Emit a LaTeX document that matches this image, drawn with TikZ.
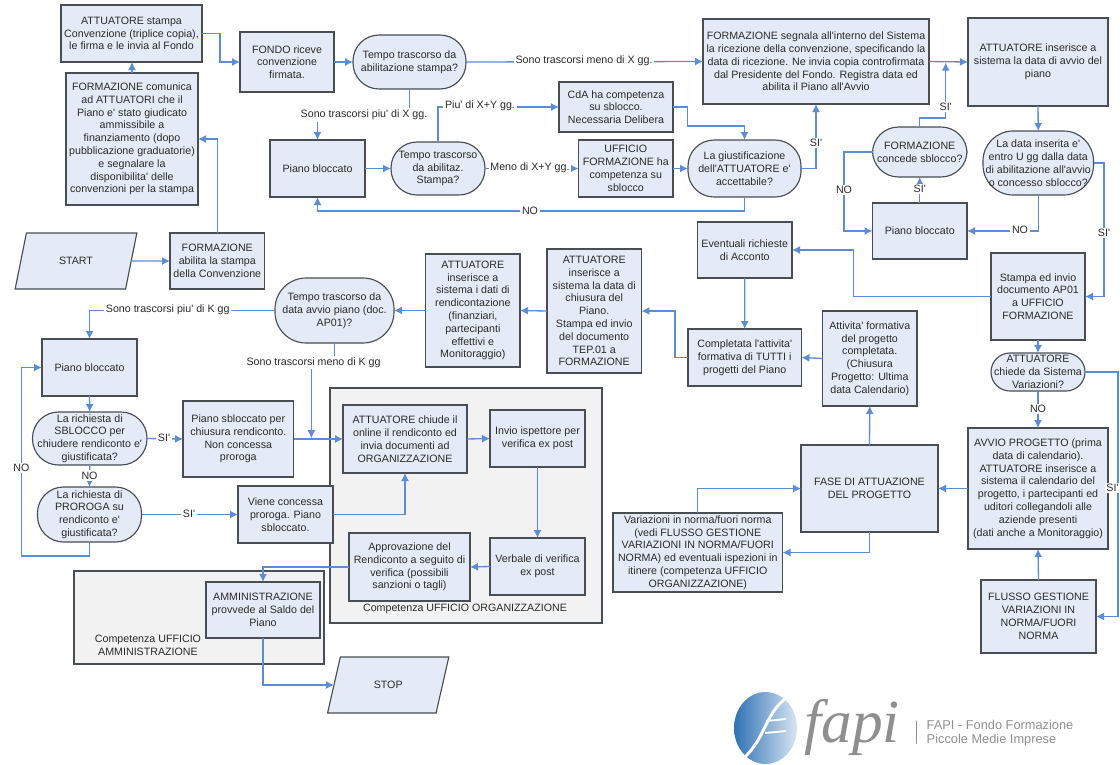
\documentclass[tikz,border=0pt]{standalone}
\usepackage{fontspec}
\newfontfamily\lib{Liberation Sans}
\newfontfamily\libs{Liberation Serif}
\usetikzlibrary{arrows.meta,shapes.geometric,calc}
\definecolor{boxfill}{HTML}{E5EBF6}
\definecolor{boxline}{HTML}{484E54}
\definecolor{conncol}{HTML}{5B8CD6}
\definecolor{panelfill}{HTML}{F2F2F2}
\definecolor{txtcol}{HTML}{2A2A2A}
\definecolor{logogrey}{HTML}{8F8F8F}
\definecolor{balldark}{HTML}{2F72B4}
\definecolor{balllight}{HTML}{D8E5F3}
\tikzset{
  x=0.75pt,y=-0.75pt,
  wh/.style 2 args={minimum width=#1*0.75pt,minimum height=#2*0.75pt},
  txt/.style={font=\lib\fontsize{8}{9.6}\selectfont,text=txtcol,align=center},
  bx/.style={txt,draw=boxline,fill=boxfill,line width=0.85pt,inner sep=0pt,outer sep=0pt},
  term/.style={bx,rounded corners=#1*0.75pt},
  term/.default=26,
  para/.style={bx,trapezium,trapezium left angle=63,trapezium right angle=117,trapezium stretches=true},
  panel/.style={draw=boxline,fill=panelfill,line width=0.85pt,inner sep=0pt},
  conn/.style={draw=conncol,line width=1pt,-{Latex[length=6pt,width=6pt]}},
  lbl/.style={txt,fill=white,inner sep=1.2pt},
  plain/.style={txt,inner sep=0pt},
}
\begin{document}
\begin{tikzpicture}
\useasboundingbox (0,0) rectangle (1120,764);
% panels
\node[panel,wh={272}{235}] (porg) at (466,505.5) {};
\node[panel,wh={250}{93}] (pamm) at (199,617.5) {};
\node[plain] (torg) at (465,609) {Competenza UFFICIO ORGANIZZAZIONE};
\node[plain] (tamm) at (148,645.5) {Competenza UFFICIO\\AMMINISTRAZIONE};
% top left
\node[bx,wh={141}{57}] (stampa) at (131.5,33.5) {ATTUATORE stampa\\Convenzione (triplice copia),\\le firma e le invia al Fondo};
\node[bx,wh={94}{60}] (fondo) at (287,62) {FONDO riceve\\convenzione\\firmata.};
\node[term,wh={113}{54}] (tempoa) at (409.5,62) {Tempo trascorso da\\abilitazione stampa?};
\node[bx,wh={132}{132}] (comunica) at (132,139) {FORMAZIONE comunica\\ad ATTUATORI che il\\Piano e' stato giudicato\\ammissibile a\\finanziamento (dopo\\pubblicazione graduatorie)\\e segnalare la\\disponibilita' delle\\convenzioni per la stampa};
\node[para,wh={122}{56}] (start) at (76,261) {START};
\node[bx,wh={94.6}{56}] (abilita) at (217.3,261) {FORMAZIONE\\abilita la stampa\\della Convenzione};
\node[bx,wh={95}{57}] (pianoa) at (317.5,168.5) {Piano bloccato};
\node[term,wh={94}{53}] (tempob) at (438,168.5) {Tempo trascorso\\da abilitaz.\\Stampa?};
\node[bx,wh={114}{50}] (cda) at (616,107) {CdA ha competenza\\su sblocco.\\Necessaria Delibera};
\node[bx,wh={94.4}{57}] (ufficio) at (625.8,168.5) {UFFICIO\\FORMAZIONE ha\\competenza su\\sblocco};
\node[term,wh={113}{57}] (giust) at (744.5,168.5) {La giustificazione\\dell'ATTUATORE e'\\accettabile?};
% top right
\node[bx,wh={226}{85}] (segnala) at (816,61.5) {FORMAZIONE segnala all'interno del Sistema\\la ricezione della convenzione, specificando la\\data di ricezione. Ne invia copia controfirmata\\dal Presidente del Fondo. Registra data ed\\abilita il Piano all'Avvio};
\node[bx,wh={140}{88}] (inserisce) at (1038,62) {ATTUATORE inserisce a\\sistema la data di avvio del\\piano};
\node[term,wh={94.5}{50}] (concede) at (919.75,152) {FORMAZIONE\\concede sblocco?};
\node[bx,wh={94.5}{56}] (pianob) at (919.75,231) {Piano bloccato};
\node[term=30,wh={110.5}{64}] (ladata) at (1038.25,163) {La data inserita e'\\entro U gg dalla data\\di abilitazione all'avvio\\o concesso sblocco?};
\node[bx,wh={94.5}{56}] (eventuali) at (744.75,250) {Eventuali richieste\\di Acconto};
\node[bx,wh={94}{87}] (stampaap) at (1038,296.5) {Stampa ed invio\\documento AP01\\a UFFICIO\\FORMAZIONE};
\node[term=19,wh={94}{38}] (chiede) at (1038,372) {ATTUATORE\\chiede da Sistema\\Variazioni?};
\node[bx,wh={140}{121}] (avvio) at (1038,488.5) {AVVIO PROGETTO (prima\\data di calendario).\\ATTUATORE inserisce a\\sistema il calendario del\\progetto, i partecipanti ed\\uditori collegandoli alle\\aziende presenti\\(dati anche a Monitoraggio)};
\node[bx,wh={115}{73}] (flusso) at (1038.5,616.5) {FLUSSO GESTIONE\\VARIAZIONI IN\\NORMA/FUORI\\NORMA};
\node[bx,wh={137}{87}] (fase) at (869.5,488.5) {FASE DI ATTUAZIONE\\DEL PROGETTO};
\node[bx,wh={94.5}{95}] (attivita) at (869.75,358.5) {Attivita' formativa\\del progetto\\completata.\\(Chiusura\\Progetto: Ultima\\data Calendario)};
\node[bx,wh={113.4}{57}] (completata) at (744.7,357.5) {Completata l'attivita'\\formativa di TUTTI i\\progetti del Piano};
\node[bx,wh={169.5}{79}] (variazioni) at (697.75,552.5) {Variazioni in norma/fuori norma\\(vedi FLUSSO GESTIONE\\VARIAZIONI IN NORMA/FUORI\\NORMA) ed eventuali ispezioni in\\itinere (competenza UFFICIO\\ORGANIZZAZIONE)};
% middle
\node[bx,wh={94.4}{124}] (chiusura) at (594.2,311) {ATTUATORE\\inserisce a\\sistema la data di\\chiusura del\\Piano.\\Stampa ed invio\\del documento\\TEP.01 a\\FORMAZIONE};
\node[bx,wh={94.3}{113}] (dati) at (472.85,310.5) {ATTUATORE\\inserisce a\\sistema i dati di\\rendicontazione\\(finanziari,\\partecipanti\\effettivi e\\Monitoraggio)};
\node[term=31,wh={119}{65}] (tempoc) at (334.5,310.5) {Tempo trascorso da\\data avvio piano (doc.\\AP01)?};
\node[bx,wh={95}{57}] (pianoc) at (89.5,367.5) {Piano bloccato};
\node[term=26,wh={114.5}{53}] (sblocco) at (89.75,438.5) {La richiesta di\\SBLOCCO per\\chiudere rendiconto e'\\giustificata?};
\node[term=26,wh={104}{55}] (proroga) at (89.5,514.5) {La richiesta di\\PROROGA su\\rendiconto e'\\giustificata?};
\node[bx,wh={110.6}{76}] (sbloccato) at (238.3,439) {Piano sbloccato per\\chiusura rendiconto.\\Non concessa\\proroga};
\node[bx,wh={95}{57}] (viene) at (285.5,514.5) {Viene concessa\\proroga. Piano\\sbloccato.};
\node[bx,wh={124}{68}] (chiude) at (405,439) {ATTUATORE chiude il\\online il rendiconto ed\\invia documenti ad\\ORGANIZZAZIONE};
\node[bx,wh={95}{57}] (invio) at (537.5,438.5) {Invio ispettore per\\verifica ex post};
\node[bx,wh={95}{57}] (verbale) at (537.5,566.5) {Verbale di verifica\\ex post};
\node[bx,wh={121}{68}] (approv) at (409.5,567) {Approvazione del\\Rendiconto a seguito di\\verifica (possibili\\sanzioni o tagli)};
\node[bx,wh={114}{56}] (ammin) at (263,610) {AMMINISTRAZIONE\\provvede al Saldo del\\Piano};
\node[para,wh={121.5}{56}] (stop) at (388.2,685) {STOP};
% free junctions
\coordinate (ja) at (945.7,62.6);
\coordinate (jb) at (311.4,438.2);
% connectors
\draw[conn] (stampa.east) -- ++(18,0) |- (fondo.west);
\draw[conn] (comunica.north) -- (comunica.north |- stampa.south);
\draw[conn] (abilita.north) |- (comunica.east);
\draw[conn] (start.east) -- (abilita.west);
\draw[conn] (fondo.east) -- (tempoa.west);
\draw[conn] (tempoa.east) -- (segnala.west);
\draw[conn] (tempoa.south) -- ++(0,26) -| (pianoa.north);
\draw[conn] (pianoa.east) -- (tempob.west);
\draw[conn] (tempob.north) |- (cda.west);
\draw[conn] (tempob.east) -- (ufficio.west);
\draw[conn] (ufficio.east) -- (giust.west);
\draw[conn] (cda.east) -- ++(14.5,0) -- ++(0,19) -| (giust.north);
\draw[conn] (giust.south) -- ++(0,14) -| (pianoa.south);
\draw[conn] (giust.east) -| (segnala.south);
\draw[conn] (segnala.east) -- (inserisce.west);
\draw[conn] (concede.north) -- ++(0,-9) -| (ja);
\draw[conn] (pianob.north) -- (concede.south);
\draw[conn] (concede.west) -- ++(-28.5,0) |- (pianob.west);
\draw[conn] (inserisce.south) -- (ladata.north);
\draw[conn] (ladata.south) |- (pianob.east);
\draw[conn] (ladata.east) -- ++(10.5,0) |- (stampaap.east);
\draw[conn] (stampaap.west) -- ++(-137.4,0) |- (eventuali.east);
\draw[conn] (eventuali.south) -- (completata.north);
\draw[conn] (stampaap.south) -- (chiede.north);
\draw[conn] (chiede.south) -- (avvio.north);
\draw[conn] (chiede.east) -- ++(33,0) |- (flusso.east);
\draw[conn] (flusso.north) -- (avvio.south);
\draw[conn] (avvio.west) -- (fase.east);
\draw[conn] (fase.north) -- (attivita.south);
\draw[conn] (attivita.west) -- (completata.east);
\draw[conn] (completata.west) -- ++(-13,0) |- (chiusura.east);
\draw[conn] (chiusura.west) -- (dati.east);
\draw[conn] (dati.west) -- (tempoc.east);
\draw[conn] (tempoc.west) -| (pianoc.north);
\draw[conn] (tempoc.south) -- ++(0,19.5) -| (jb);
\draw[conn] (pianoc.south) -- (sblocco.north);
\draw[conn] (sblocco.east) -- (sbloccato.west);
\draw[conn] (sbloccato.east) -- (chiude.west);
\draw[conn] (chiude.east) -- (invio.west);
\draw[conn] (invio.south) -- (verbale.north);
\draw[conn] (verbale.west) -- (approv.east);
\draw[conn] (approv.west) -| (ammin.north);
\draw[conn] (sblocco.south) -- (proroga.north);
\draw[conn] (proroga.south) -- ++(0,14) -- ++(-68,0) |- (pianoc.west);
\draw[conn] (proroga.east) -- (viene.west);
\draw[conn] (viene.east) -| (chiude.south);
\draw[conn] (ammin.south) |- (stop.west);
\draw[conn] (fase.south) |- (variazioni.east);
\draw[conn] (variazioni.north) |- (fase.west);
% connector labels
\node[lbl] (la) at (584,61) {Sono trascorsi meno di X gg.};
\node[lbl] (lb) at (364,115) {Sono trascorsi piu' di X gg.};
\node[lbl] (lc) at (480,106) {Piu' di X+Y gg.};
\node[lbl] (ld) at (530,168) {Meno di X+Y gg.};
\node[lbl] (le) at (530,211) {NO};
\node[lbl] (lf) at (816,143) {SI'};
\node[lbl] (lg) at (945.7,107) {SI'};
\node[lbl] (lh) at (919.75,189) {SI'};
\node[lbl] (li) at (844,190) {NO};
\node[lbl] (lj) at (1020,230) {NO};
\node[lbl] (lk) at (1104,233) {SI'};
\node[lbl] (ll) at (1038,409) {NO};
\node[lbl] (lm) at (1112.5,488) {SI'};
\node[lbl] (ln) at (167.7,310) {Sono trascorsi piu' di K gg};
\node[lbl] (lo) at (313.6,362.5) {Sono trascorsi meno di K gg};
\node[lbl] (lp) at (164,438) {SI'};
\node[lbl] (lq) at (89.5,475.7) {NO};
\node[lbl] (lr) at (21.4,468) {NO};
\node[lbl] (ls) at (189,514) {SI'};
% logo
\node[ellipse,minimum width=63*0.75pt,minimum height=72*0.75pt,inner sep=0pt,left color=balldark,right color=balllight] (ball) at (765.5,728) {};
\draw[white,line width=2.2pt] (793,695) .. controls (765,705) and (766,745) .. (738,762);
\draw[white,line width=1.4pt] (766,721) -- (786,719);
\draw[white,line width=1.4pt] (765,733) -- (786,731);
\node[text=logogrey,font=\libs\itshape\fontsize{46}{46}\selectfont,inner sep=0pt] (fapi) at (852,727) {fapi};
\node[draw=logogrey,line width=0.6pt,inner sep=0pt,wh={0}{23}] (sep) at (916,732) {};
\node[text=logogrey,font=\lib\fontsize{9.6}{10.8}\selectfont,align=left,inner sep=0pt] (fapit) at (1000,733) {FAPI - Fondo Formazione\\Piccole Medie Imprese};
\end{tikzpicture}
\end{document}
